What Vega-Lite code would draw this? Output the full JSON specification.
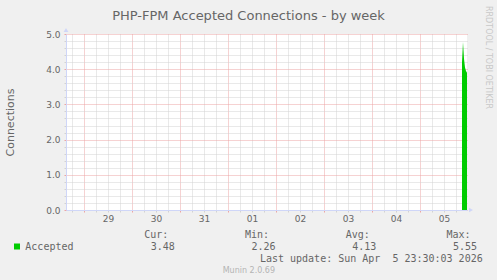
{
  "$schema": "https://vega.github.io/schema/vega-lite/v6.json",
  "background": "#F0F0F0",
  "padding": {"left": 4, "top": 5, "right": 6, "bottom": 6.5},
  "spacing": 5.5,
  "config": {
    "view": {"stroke": null},
    "font": "DejaVu Sans"
  },
  "vconcat": [
    {
      "width": 401,
      "height": 176,
      "view": {"fill": "#FFFFFF", "stroke": null},
      "layer": [
        {
          "data": {
            "values": [
              {"t": "2026-04-05T21:00:00Z", "v": 4.2},
              {"t": "2026-04-05T21:30:00Z", "v": 4.77},
              {"t": "2026-04-05T22:00:00Z", "v": 4.3},
              {"t": "2026-04-05T22:30:00Z", "v": 4.05},
              {"t": "2026-04-05T23:00:00Z", "v": 3.95},
              {"t": "2026-04-05T23:30:00Z", "v": 3.9}
            ]
          },
          "mark": {"type": "area", "color": "#00CC00", "interpolate": "linear"},
          "encoding": {
            "x": {
              "field": "t",
              "type": "temporal",
              "scale": {
                "type": "utc",
                "domain": [
                  {"year": 2026, "month": 3, "date": 28, "hours": 15, "utc": true},
                  {"year": 2026, "month": 4, "date": 5, "hours": 23, "minutes": 30, "utc": true}
                ],
                "nice": false
              },
              "axis": {
                "orient": "bottom",
                "title": null,
                "values": [
                  {"year": 2026, "month": 3, "date": 28, "hours": 18, "utc": true},
                  {"year": 2026, "month": 3, "date": 29, "hours": 0, "utc": true},
                  {"year": 2026, "month": 3, "date": 29, "hours": 6, "utc": true},
                  {"year": 2026, "month": 3, "date": 29, "hours": 12, "utc": true},
                  {"year": 2026, "month": 3, "date": 29, "hours": 18, "utc": true},
                  {"year": 2026, "month": 3, "date": 30, "hours": 0, "utc": true},
                  {"year": 2026, "month": 3, "date": 30, "hours": 6, "utc": true},
                  {"year": 2026, "month": 3, "date": 30, "hours": 12, "utc": true},
                  {"year": 2026, "month": 3, "date": 30, "hours": 18, "utc": true},
                  {"year": 2026, "month": 3, "date": 31, "hours": 0, "utc": true},
                  {"year": 2026, "month": 3, "date": 31, "hours": 6, "utc": true},
                  {"year": 2026, "month": 3, "date": 31, "hours": 12, "utc": true},
                  {"year": 2026, "month": 3, "date": 31, "hours": 18, "utc": true},
                  {"year": 2026, "month": 4, "date": 1, "hours": 0, "utc": true},
                  {"year": 2026, "month": 4, "date": 1, "hours": 6, "utc": true},
                  {"year": 2026, "month": 4, "date": 1, "hours": 12, "utc": true},
                  {"year": 2026, "month": 4, "date": 1, "hours": 18, "utc": true},
                  {"year": 2026, "month": 4, "date": 2, "hours": 0, "utc": true},
                  {"year": 2026, "month": 4, "date": 2, "hours": 6, "utc": true},
                  {"year": 2026, "month": 4, "date": 2, "hours": 12, "utc": true},
                  {"year": 2026, "month": 4, "date": 2, "hours": 18, "utc": true},
                  {"year": 2026, "month": 4, "date": 3, "hours": 0, "utc": true},
                  {"year": 2026, "month": 4, "date": 3, "hours": 6, "utc": true},
                  {"year": 2026, "month": 4, "date": 3, "hours": 12, "utc": true},
                  {"year": 2026, "month": 4, "date": 3, "hours": 18, "utc": true},
                  {"year": 2026, "month": 4, "date": 4, "hours": 0, "utc": true},
                  {"year": 2026, "month": 4, "date": 4, "hours": 6, "utc": true},
                  {"year": 2026, "month": 4, "date": 4, "hours": 12, "utc": true},
                  {"year": 2026, "month": 4, "date": 4, "hours": 18, "utc": true},
                  {"year": 2026, "month": 4, "date": 5, "hours": 0, "utc": true},
                  {"year": 2026, "month": 4, "date": 5, "hours": 6, "utc": true},
                  {"year": 2026, "month": 4, "date": 5, "hours": 12, "utc": true},
                  {"year": 2026, "month": 4, "date": 5, "hours": 18, "utc": true}
                ],
                "labelExpr": "utchours(datum.value) === 12 ? utcFormat(datum.value, '%d') : ''",
                "labelFont": "DejaVu Sans",
                "labelFontSize": 9,
                "labelColor": "#666666",
                "labelPadding": 2,
                "labelFlush": false,
                "labelOverlap": false,
                "tickSize": 2,
                "tickColor": {"condition": {"test": "utchours(datum.value) === 0", "value": "#ECA4A4"}, "value": "#D2D2D2"},
                "grid": true,
                "gridColor": {"condition": {"test": "utchours(datum.value) === 0", "value": "#ECA4A4"}, "value": "#D2D2D2"},
                "gridDash": [1, 1],
                "domainColor": "#CFD6F8"
              }
            },
            "y": {
              "field": "v",
              "type": "quantitative",
              "scale": {"domain": [0, 5], "nice": false, "zero": true},
              "axis": {
                "orient": "left",
                "title": "Connections",
                "titleFont": "DejaVu Sans",
                "titleFontSize": 11,
                "titleFontWeight": "normal",
                "titleColor": "#666666",
                "titlePadding": 30,
                "values": [0, 0.2, 0.4, 0.6, 0.8, 1, 1.2, 1.4, 1.6, 1.8, 2, 2.2, 2.4, 2.6, 2.8, 3, 3.2, 3.4, 3.6, 3.8, 4, 4.2, 4.4, 4.6, 4.8, 5],
                "labelExpr": "datum.value % 1 === 0 ? format(datum.value, '.1f') : ''",
                "labelFont": "DejaVu Sans",
                "labelFontSize": 9,
                "labelColor": "#666666",
                "labelPadding": 4,
                "labelFlush": false,
                "labelOverlap": false,
                "tickSize": 2,
                "tickColor": {"condition": {"test": "datum.value % 1 === 0", "value": "#ECA4A4"}, "value": "#D2D2D2"},
                "grid": true,
                "gridColor": {"condition": {"test": "datum.value % 1 === 0", "value": "#ECA4A4"}, "value": "#D2D2D2"},
                "gridDash": [1, 1],
                "domainColor": "#CFD6F8"
              }
            }
          }
        },
        {
          "data": {"values": [{"t": "2026-04-05T23:30:00Z", "v": 0}]},
          "mark": {"type": "point", "shape": "triangle-right", "filled": true, "color": "#CFD6F8", "size": 22, "opacity": 1, "xOffset": 4},
          "encoding": {
            "x": {"field": "t", "type": "temporal", "axis": null},
            "y": {"field": "v", "type": "quantitative", "axis": null}
          }
        },
        {
          "data": {"values": [{"t": "2026-03-28T15:00:00Z", "v": 5}]},
          "mark": {"type": "point", "shape": "triangle-up", "filled": true, "color": "#CFD6F8", "size": 22, "opacity": 1, "yOffset": -4},
          "encoding": {
            "x": {"field": "t", "type": "temporal", "axis": null},
            "y": {"field": "v", "type": "quantitative", "axis": null}
          }
        },
        {
          "data": {"values": [{"t": "2026-03-28T15:00:00Z", "v": 0}]},
          "mark": {"type": "point", "opacity": 0},
          "encoding": {
            "x": {
              "field": "t",
              "type": "temporal",
              "axis": {
                "orient": "top",
                "title": "PHP-FPM Accepted Connections - by week",
                "titleFont": "DejaVu Sans",
                "titleFontSize": 13,
                "titleFontWeight": "normal",
                "titleColor": "#666666",
                "titleAlign": "center",
                "titleBaseline": "alphabetic",
                "titleX": 182,
                "titleY": -15,
                "labels": false,
                "ticks": false,
                "domain": false,
                "grid": false
              }
            },
            "y": {
              "field": "v",
              "type": "quantitative",
              "axis": {
                "orient": "right",
                "title": "RRDTOOL / TOBI OETIKER",
                "titleFont": "DejaVu Sans",
                "titleFontSize": 8,
                "titleFontWeight": "normal",
                "titleColor": "#C8C8C8",
                "titleAngle": 90,
                "titleAlign": "center",
                "titleBaseline": "middle",
                "titleX": 20,
                "titleY": 23,
                "labels": false,
                "ticks": false,
                "domain": false,
                "grid": false
              }
            }
          }
        }
      ],
      "resolve": {"axis": {"x": "independent", "y": "independent"}}
    },
    {
      "width": 403,
      "height": 48,
      "view": {"stroke": null},
      "layer": [
        {
          "data": {
            "values": [
              {"stat": "Cur", "line": "head", "label": "Cur:"},
              {"stat": "Min", "line": "head", "label": "Min:"},
              {"stat": "Avg", "line": "head", "label": "Avg:"},
              {"stat": "Max", "line": "head", "label": "Max:"}
            ]
          },
          "mark": {"type": "text", "font": "DejaVu Sans Mono", "fontSize": 10, "color": "#666666", "align": "right", "baseline": "middle", "dx": 1.5},
          "encoding": {
            "x": {"field": "stat", "type": "nominal", "scale": {"type": "point", "domain": ["series", "Cur", "Min", "Avg", "Max"], "padding": 0}, "axis": null},
            "y": {"field": "line", "type": "nominal", "scale": {"type": "point", "domain": ["head", "series", "update", "version"], "padding": 0.5}, "axis": null},
            "text": {"field": "label"}
          }
        },
        {
          "data": {
            "values": [
              {"stat": "Cur", "line": "series", "value": 3.48},
              {"stat": "Min", "line": "series", "value": 2.26},
              {"stat": "Avg", "line": "series", "value": 4.13},
              {"stat": "Max", "line": "series", "value": 5.55}
            ]
          },
          "mark": {"type": "text", "font": "DejaVu Sans Mono", "fontSize": 10, "color": "#666666", "align": "right", "baseline": "middle", "dx": 8},
          "encoding": {
            "x": {"field": "stat", "type": "nominal"},
            "y": {"field": "line", "type": "nominal"},
            "text": {"field": "value", "type": "quantitative", "format": ".2f"}
          }
        },
        {
          "data": {"values": [{"stat": "series", "line": "series", "label": "Accepted"}]},
          "mark": {"type": "text", "font": "DejaVu Sans Mono", "fontSize": 10, "color": "#666666", "align": "right", "baseline": "middle", "dx": 7.5},
          "encoding": {
            "x": {"field": "stat", "type": "nominal"},
            "y": {"field": "line", "type": "nominal"},
            "text": {"field": "label"}
          }
        },
        {
          "data": {"values": [{"stat": "series", "line": "series", "label": "Accepted"}]},
          "mark": {"type": "point", "shape": "square", "filled": true, "color": "#00CC00", "opacity": 1, "size": 36, "xOffset": -49},
          "encoding": {
            "x": {"field": "stat", "type": "nominal"},
            "y": {"field": "line", "type": "nominal"}
          }
        },
        {
          "data": {"values": [{"stat": "Max", "line": "update", "label": "Last update: Sun Apr \u00a05 23:30:03 2026"}]},
          "mark": {"type": "text", "font": "DejaVu Sans Mono", "fontSize": 10, "color": "#666666", "align": "right", "baseline": "middle", "dx": 13.7},
          "encoding": {
            "x": {"field": "stat", "type": "nominal"},
            "y": {"field": "line", "type": "nominal"},
            "text": {"field": "label"}
          }
        },
        {
          "data": {"values": [{"stat": "Min", "line": "version", "label": "Munin 2.0.69"}]},
          "mark": {"type": "text", "font": "DejaVu Sans", "fontSize": 8, "color": "#B4B4B4", "align": "right", "baseline": "middle", "dx": 7.5},
          "encoding": {
            "x": {"field": "stat", "type": "nominal"},
            "y": {"field": "line", "type": "nominal"},
            "text": {"field": "label"}
          }
        }
      ]
    }
  ]
}
